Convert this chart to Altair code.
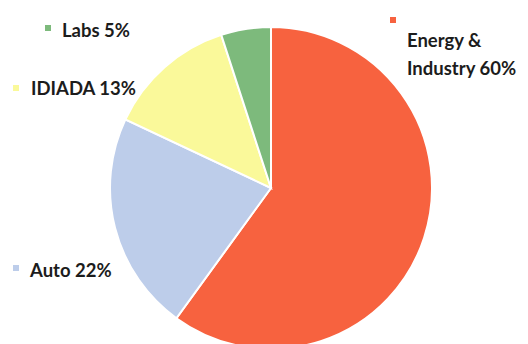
import altair as alt
import pandas as pd

categories = ["Energy & Industry", "Auto", "IDIADA", "Labs"]
shares = [60, 22, 13, 5]
colors = ["#F7623F", "#BDCDEA", "#FAF99A", "#7DBA7C"]
label_lines = [["Energy &", "Industry 60%"], ["Auto 22%"], ["IDIADA 13%"], ["Labs 5%"]]

df = pd.DataFrame({"cat": categories, "share": shares, "order": list(range(len(categories)))})

W, H = 512, 336
CX, CY, R = 263, 180, 161
FONT = "Lato"
FS = 18.5

pie = alt.Chart(df).mark_arc(outerRadius=R, stroke="white", strokeWidth=2).encode(
    theta=alt.Theta("share:Q", stack=True),
    order=alt.Order("order:Q"),
    color=alt.Color("cat:N", scale=alt.Scale(domain=categories, range=colors), legend=None),
    x=alt.value(CX),
    y=alt.value(CY),
)

# label layout (pixel positions of key square and text), style only
label_pos = {
    "Energy & Industry": (385, 12, 399, 33),
    "Auto": (8, 260, 22, 263),
    "IDIADA": (8, 80, 23, 81),
    "Labs": (40, 20, 54, 23),
}

layers = [pie]
for cat, col, lines in zip(categories, colors, label_lines):
    kx, ky, tx, ty = label_pos[cat]
    sq = alt.Chart(pd.DataFrame({"c": [cat]})).mark_square(size=36, color=col, opacity=1).encode(
        x=alt.value(kx), y=alt.value(ky)
    )
    txt = alt.Chart(pd.DataFrame({"t": [lines]})).mark_text(
        align="left", baseline="middle", font=FONT, fontSize=FS, fontWeight="bold",
        color="#1c1c1c", lineHeight=28,
    ).encode(x=alt.value(tx), y=alt.value(ty), text="t")
    layers += [sq, txt]

chart = alt.layer(*layers).properties(
    width=W, height=H, padding=0, autosize=alt.AutoSizeParams(type="none")
).configure_view(stroke=None)

chart.save("out.html", embed_options={"renderer": "svg", "actions": False})
